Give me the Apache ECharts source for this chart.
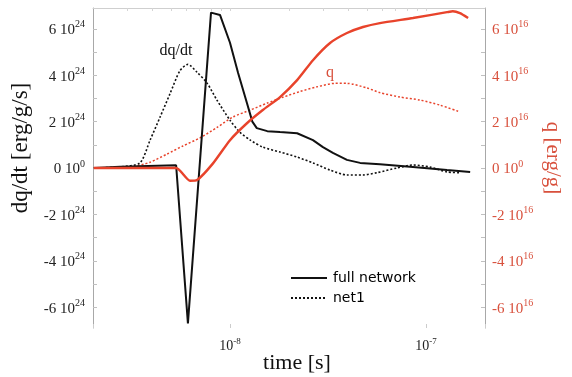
<!DOCTYPE html>
<html>
<head>
<meta charset="utf-8">
<script src="https://cdn.jsdelivr.net/npm/echarts@6/dist/echarts.min.js"></script>
<style>
  html, body { margin: 0; padding: 0; background: #fff; }
  #chart { width: 572px; height: 377px; }
</style>
</head>
<body>
<div id="chart"></div>
<script>
// Energy release rate dq/dt (units of 1e24 erg/g/s) and integrated heat q (units of 1e16 erg/g)
// versus time for the full network and the reduced "net1" network.

const tDqFull = [2.02e-9, 2.75e-9, 5.31e-9, 6.1e-9, 8.0e-9, 8.89e-9, 1.0e-8, 1.1e-8, 1.22e-8, 1.3e-8,
  1.37e-8, 1.55e-8, 1.8e-8, 2.2e-8, 2.65e-8, 2.98e-8, 3.35e-8, 3.95e-8, 4.61e-8, 5.82e-8,
  8.58e-8, 1.28e-7, 1.68e-7];
const dqFull = [0, 0.05, 0.12, -6.7, 6.7, 6.6, 5.4, 4.1, 2.8, 2.0,
  1.72, 1.59, 1.55, 1.5, 1.2, 0.9, 0.65, 0.35, 0.22, 0.16,
  0.04, -0.09, -0.17];

const tDqNet1 = [2.02e-9, 2.75e-9, 3.47e-9, 3.91e-9, 4.4e-9, 4.94e-9, 5.56e-9, 6.1e-9, 6.79e-9, 7.64e-9,
  8.59e-9, 1.0e-8, 1.12e-8, 1.27e-8, 1.47e-8, 1.8e-8, 2.2e-8, 2.65e-8, 3.24e-8, 3.95e-8,
  4.77e-8, 5.63e-8, 7.11e-8, 8.58e-8, 1.05e-7, 1.28e-7, 1.49e-7];
const dqNet1 = [0, 0.05, 0.22, 1.2, 2.2, 3.2, 4.2, 4.47, 4.13, 3.66,
  2.92, 2.06, 1.55, 1.2, 0.9, 0.69, 0.47, 0.22, -0.09, -0.3,
  -0.3, -0.2, 0.0, 0.13, 0.04, -0.17, -0.2];

const tQFull = [2.02e-9, 5.31e-9, 6.25e-9, 6.79e-9, 8.19e-9, 1.0e-8, 1.22e-8, 1.47e-8, 1.8e-8, 2.2e-8,
  2.65e-8, 3.24e-8, 3.95e-8, 4.77e-8, 5.82e-8, 8.58e-8, 1.28e-7, 1.37e-7, 1.49e-7, 1.64e-7];
const qFull = [0, 0, -0.55, -0.52, 0.2, 1.2, 1.93, 2.5, 3.06, 3.79,
  4.65, 5.39, 5.82, 6.08, 6.25, 6.47, 6.72, 6.76, 6.68, 6.47];

const tQNet1 = [2.02e-9, 2.75e-9, 3.2e-9, 3.91e-9, 4.77e-9, 5.75e-9, 7.03e-9, 8.59e-9, 1.035e-8, 1.27e-8,
  1.55e-8, 1.86e-8, 2.28e-8, 2.78e-8, 3.43e-8, 3.95e-8, 5.0e-8, 5.82e-8, 7.36e-8, 9.31e-8,
  1.18e-7, 1.49e-7];
const qNet1 = [0, 0, 0.05, 0.25, 0.6, 0.95, 1.3, 1.75, 2.2, 2.5,
  2.8, 3.05, 3.3, 3.5, 3.65, 3.65, 3.45, 3.25, 3.06, 2.93,
  2.71, 2.42];

const yTicks = [-6, -4, -2, 0, 2, 4, 6];
const yMinorTicks = [-6, -5, -4, -3, -2, -1, 0, 1, 2, 3, 4, 5, 6];
const xMinorTicks = [3e-9, 4e-9, 5e-9, 6e-9, 7e-9, 8e-9, 9e-9, 1e-8, 2e-8, 3e-8, 4e-8, 5e-8,
  6e-8, 7e-8, 8e-8, 9e-8, 1e-7];
const dqExp = 24;
const qExp = 16;

const zip = (ts, vs) => ts.map((t, i) => [t, vs[i]]);

const BLACK = '#111111';
const RED = '#e8432b';
const RED_TEXT = '#d8503c';
const SERIF = '"Liberation Serif", "Times New Roman", serif';

function powLabel(v, exp) {
  if (v === 0) return '{m|0 10}{s|0}';
  return '{m|' + v + ' 10}{s|' + exp + '}';
}
function richFor(color) {
  return {
    m: { fontFamily: SERIF, fontSize: 15, color: color, lineHeight: 18, verticalAlign: 'bottom' },
    s: { fontFamily: SERIF, fontSize: 10, color: color, lineHeight: 18, verticalAlign: 'top' }
  };
}

const chart = echarts.init(document.getElementById('chart'), null, { renderer: 'canvas' });

chart.setOption({
  animation: false,
  backgroundColor: '#ffffff',
  grid: { left: 93, right: 87, top: 8, bottom: 49, containLabel: false },
  legend: {
    data: ['full network', 'net1'],
    orient: 'vertical',
    left: 290,
    top: 271,
    padding: 0,
    itemWidth: 36,
    itemHeight: 14,
    itemGap: 6,
    itemStyle: { opacity: 0 },
    textStyle: { fontFamily: '"DejaVu Sans", sans-serif', fontSize: 14, color: '#000', padding: [0, 0, 0, 1] }
  },
  xAxis: [
    {
      type: 'log',
      logBase: 10,
      min: 2e-9,
      max: 2e-7,
      position: 'bottom',
      axisLine: { show: false, onZero: false },
      axisTick: { show: true, inside: true, length: 4, lineStyle: { color: '#cccccc' } },
      splitLine: { show: false },
      axisLabel: {
        margin: 9,
        formatter: function (v) {
          const e = Math.log10(v);
          if (Math.abs(e - Math.round(e)) > 1e-6) return '';
          return '{m|10}{s|' + Math.round(e) + '}';
        },
        rich: {
          m: { fontFamily: SERIF, fontSize: 14, color: '#222', lineHeight: 16, verticalAlign: 'bottom' },
          s: { fontFamily: SERIF, fontSize: 9, color: '#222', lineHeight: 16, verticalAlign: 'top' }
        }
      }
    },
    {
      type: 'log',
      logBase: 10,
      min: 2e-9,
      max: 2e-7,
      position: 'top',
      axisLine: { show: true, onZero: false, lineStyle: { color: '#cfcfcf', width: 1 } },
      axisTick: { show: true, inside: true, length: 3, customValues: xMinorTicks, lineStyle: { color: '#d5d5d5' } },
      axisLabel: { show: false },
      splitLine: { show: false }
    }
  ],
  yAxis: [
    {
      type: 'value',
      position: 'left',
      min: -6.9,
      max: 6.9,
      axisLine: { show: true, onZero: false, lineStyle: { color: '#a8a8a8', width: 1 } },
      axisTick: { show: true, inside: true, length: 4, customValues: yMinorTicks, lineStyle: { color: '#c0c0c0' } },
      splitLine: { show: false },
      axisLabel: {
        customValues: yTicks,
        margin: 8,
        formatter: v => powLabel(v, dqExp),
        rich: richFor('#222')
      }
    },
    {
      type: 'value',
      position: 'right',
      min: -6.9,
      max: 6.9,
      axisLine: { show: true, onZero: false, lineStyle: { color: '#a8a8a8', width: 1 } },
      axisTick: { show: true, inside: true, length: 4, customValues: yMinorTicks, lineStyle: { color: '#c0c0c0' } },
      splitLine: { show: false },
      axisLabel: {
        customValues: yTicks,
        margin: 7,
        formatter: v => powLabel(v, qExp),
        rich: richFor(RED_TEXT)
      }
    }
  ],
  series: [
    {
      name: 'full network',
      type: 'line',
      yAxisIndex: 0,
      data: zip(tDqFull, dqFull),
      showSymbol: false,
      symbol: 'none',
      lineStyle: { color: BLACK, width: 2 },
      itemStyle: { color: BLACK },
      z: 4
    },
    {
      name: 'net1',
      type: 'line',
      yAxisIndex: 0,
      data: zip(tDqNet1, dqNet1),
      showSymbol: false,
      symbol: 'none',
      smooth: 0.25,
      lineStyle: { color: BLACK, width: 1.6, type: [2, 2] },
      itemStyle: { color: BLACK },
      z: 3
    },
    {
      name: 'q full network',
      type: 'line',
      yAxisIndex: 1,
      data: zip(tQFull, qFull),
      showSymbol: false,
      symbol: 'none',
      smooth: 0.2,
      lineStyle: { color: RED, width: 2.4 },
      itemStyle: { color: RED },
      z: 5
    },
    {
      name: 'q net1',
      type: 'line',
      yAxisIndex: 1,
      data: zip(tQNet1, qNet1),
      showSymbol: false,
      symbol: 'none',
      smooth: 0.25,
      lineStyle: { color: RED, width: 1.5, type: [2, 2] },
      itemStyle: { color: RED },
      z: 2
    }
  ],
  graphic: [
    {
      type: 'text', x: 21, y: 148, rotation: Math.PI / 2,
      style: { text: 'dq/dt [erg/g/s]', fontFamily: SERIF, fontSize: 23, fill: '#111', align: 'center', verticalAlign: 'middle' }
    },
    {
      type: 'text', x: 553, y: 158, rotation: -Math.PI / 2,
      style: { text: 'q [erg/g]', fontFamily: SERIF, fontSize: 21, fill: RED_TEXT, align: 'center', verticalAlign: 'middle' }
    },
    {
      type: 'text', x: 297, y: 363,
      style: { text: 'time [s]', fontFamily: SERIF, fontSize: 22, fill: '#111', align: 'center', verticalAlign: 'middle' }
    },
    {
      type: 'text', x: 176, y: 51,
      style: { text: 'dq/dt', fontFamily: SERIF, fontSize: 16, fill: '#111', align: 'center', verticalAlign: 'middle' }
    },
    {
      type: 'text', x: 330, y: 73,
      style: { text: 'q', fontFamily: SERIF, fontSize: 16, fill: RED_TEXT, align: 'center', verticalAlign: 'middle' }
    }
  ]
});
</script>
</body>
</html>
